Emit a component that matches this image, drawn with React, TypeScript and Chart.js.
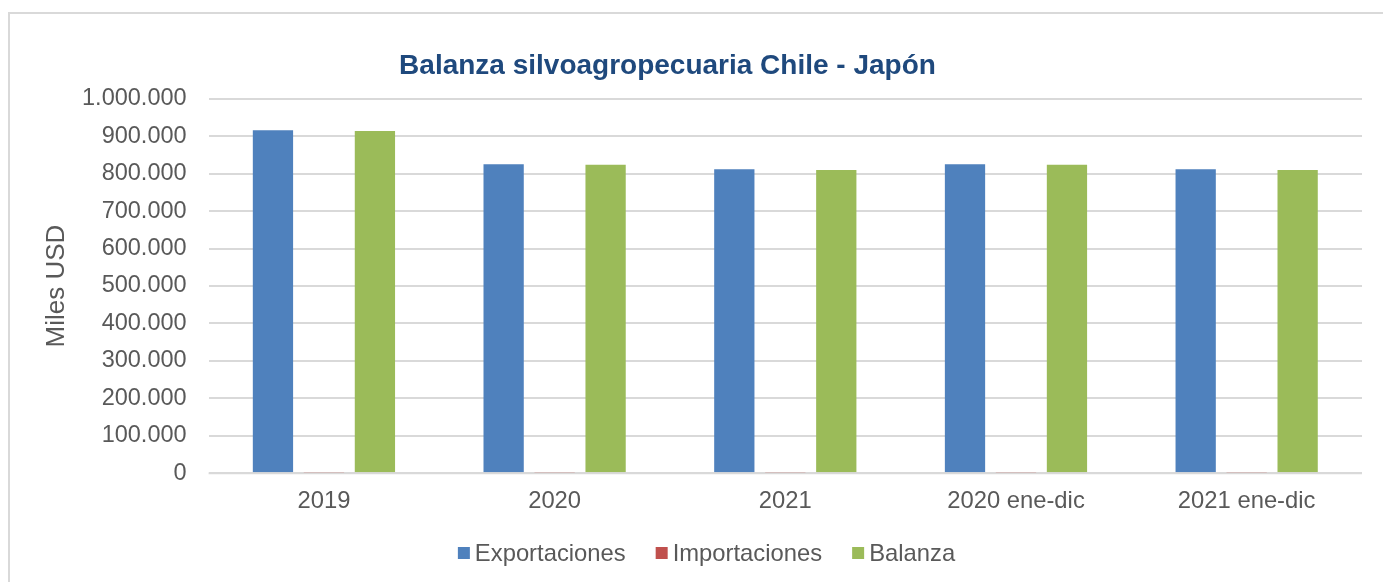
import React, { useEffect, useRef } from 'react';
import { Chart, registerables } from 'chart.js';

Chart.register(...registerables);

const categories = ['2019', '2020', '2021', '2020 ene-dic', '2021 ene-dic'];
const exportaciones = [915600, 824900, 811500, 824900, 811500];
const importaciones = [300, 250, 300, 250, 300];
const balanza = [913800, 823800, 809700, 823800, 809700];
const yTickLabels = ['0', '100.000', '200.000', '300.000', '400.000', '500.000', '600.000', '700.000', '800.000', '900.000', '1.000.000'];
const seriesNames = ['Exportaciones', 'Importaciones', 'Balanza'];
const seriesColors = ['#4F81BD', '#C0504D', '#9BBB59'];
const chartTitle = 'Balanza silvoagropecuaria Chile - Japón';
const yAxisTitle = 'Miles USD';

const FONT = '"Liberation Sans", Arial, sans-serif';
const TEXT_COLOR = '#595959';
const GRID_COLOR = '#D9D9D9';

const decorPlugin = {
  id: 'decor',
  afterDatasetsDraw(chart: any) {
    // category axis line drawn over the bars, as in the original
    const ctx = chart.ctx;
    const y0 = chart.scales.y.getPixelForValue(0);
    ctx.save();
    ctx.strokeStyle = GRID_COLOR;
    ctx.lineWidth = 2;
    ctx.beginPath();
    ctx.moveTo(chart.chartArea.left, y0);
    ctx.lineTo(chart.chartArea.right, y0);
    ctx.stroke();
    ctx.restore();
  },
  afterDraw(chart: any) {
    const ctx = chart.ctx;
    ctx.save();
    // Title
    ctx.fillStyle = '#1F497D';
    ctx.font = `bold 28px ${FONT}`;
    ctx.textAlign = 'center';
    ctx.textBaseline = 'alphabetic';
    ctx.fillText(chartTitle, 667.5, 74);
    // Y axis title
    ctx.save();
    ctx.translate(57, (chart.chartArea.top + chart.chartArea.bottom) / 2);
    ctx.rotate(-Math.PI / 2);
    ctx.fillStyle = TEXT_COLOR;
    ctx.font = `26px ${FONT}`;
    ctx.textAlign = 'center';
    ctx.textBaseline = 'middle';
    ctx.fillText(yAxisTitle, 0, 0);
    ctx.restore();
    // Legend
    ctx.font = `23.8px ${FONT}`;
    ctx.textAlign = 'left';
    ctx.textBaseline = 'alphabetic';
    const box = 12;
    const gapBox = 5;
    const gapItem = 30;
    const widths = seriesNames.map((n) => ctx.measureText(n).width);
    const total = widths.reduce((a, w) => a + box + gapBox + w, 0) + gapItem * (seriesNames.length - 1);
    let x = 706.5 - total / 2;
    const baseline = 561;
    seriesNames.forEach((n, i) => {
      ctx.fillStyle = seriesColors[i];
      ctx.fillRect(x, baseline - 14, box, box);
      x += box + gapBox;
      ctx.fillStyle = TEXT_COLOR;
      ctx.fillText(n, x, baseline);
      x += widths[i] + gapItem;
    });
    ctx.restore();
  },
};

export default function App() {
  const ref = useRef<HTMLCanvasElement>(null);
  useEffect(() => {
    if (!ref.current) return;
    const chart = new Chart(ref.current, {
      type: 'bar',
      data: {
        labels: categories,
        datasets: [
          { label: seriesNames[0], data: exportaciones, backgroundColor: seriesColors[0] },
          { label: seriesNames[1], data: importaciones, backgroundColor: seriesColors[1], inflateAmount: 0 },
          { label: seriesNames[2], data: balanza, backgroundColor: seriesColors[2] },
        ],
      },
      options: {
        animation: false,
        responsive: false,
        maintainAspectRatio: false,
        layout: { padding: { left: 0, right: 21, top: 98.7, bottom: 48.7 } },
        datasets: { bar: { categoryPercentage: 0.663, barPercentage: 0.79 } },
        plugins: {
          legend: { display: false },
          title: { display: false },
          tooltip: { enabled: false },
        },
        scales: {
          x: {
            grid: { display: false, drawTicks: false },
            border: { display: false },
            ticks: { color: TEXT_COLOR, font: { family: FONT, size: 23.8 }, padding: 14, maxRotation: 0 },
            afterFit: (s: any) => { s.height = 60; },
          },
          y: {
            min: 0,
            max: 1000000,
            grid: { color: GRID_COLOR, lineWidth: 2, drawTicks: false },
            border: { display: false },
            ticks: {
              stepSize: 100000,
              color: TEXT_COLOR,
              font: { family: FONT, size: 23.5 },
              padding: 22,
              callback: (_v: any, i: number) => yTickLabels[i],
            },
            afterFit: (s: any) => { s.width = 208.6; },
          },
        },
      },
      plugins: [decorPlugin],
    });
    return () => chart.destroy();
  }, []);
  return (
    <div style={{ position: 'fixed', left: 0, top: 0, width: 1383, height: 582, overflow: 'hidden', background: '#fff' }}>
      <div style={{ position: 'absolute', left: 8, top: 12, width: 1500, height: 700, border: '2px solid #D9D9D9' }} />
      <canvas ref={ref} width={1383} height={582} style={{ position: 'absolute', left: 0, top: 0, width: 1383, height: 582 }} />
    </div>
  );
}
